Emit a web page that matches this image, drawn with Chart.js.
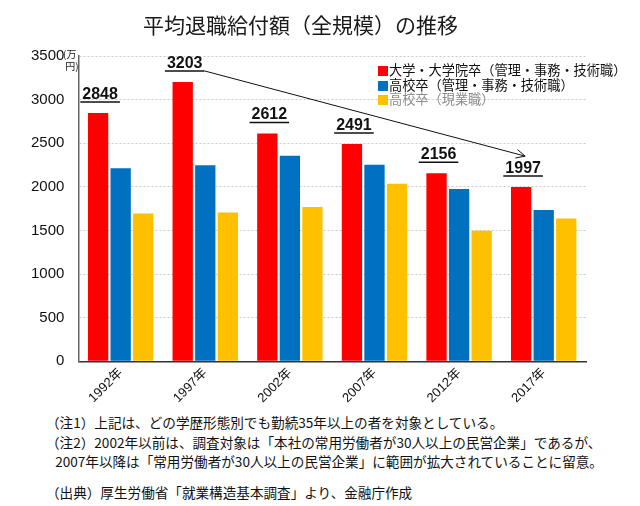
<!DOCTYPE html>
<html>
<head>
<meta charset="utf-8">
<script src="https://cdn.jsdelivr.net/npm/chart.js@4"></script>
<style>
  body { margin: 0; background: #fff; font-family: "Noto Sans CJK JP", sans-serif; }
  #wrap { position: relative; width: 640px; height: 506px; }
  #c { position: absolute; left: 0; top: 0; }
  #title { position: absolute; left: 143px; top: 10px; font-size: 21px; line-height: 28px; color: #1a1a1a; white-space: nowrap; }
  #legend { position: absolute; left: 378px; top: 63px; font-size: 13.2px; line-height: 14.6px; white-space: nowrap; }
  #legend .sw { display: inline-block; width: 10px; height: 10px; margin-right: 1px; vertical-align: -1px; }
  #unit { position: absolute; left: 63px; top: 48px; font-size: 10px; line-height: 12px; color: #222; }
  #notes { position: absolute; left: 46px; top: 413px; font-size: 13.6px; line-height: 19.5px; color: #111; white-space: nowrap; }
</style>
</head>
<body>
<div id="wrap">
  <canvas id="c" width="640" height="410"></canvas>
  <div id="title">平均退職給付額（全規模）の推移</div>
  <div id="unit">(万<br>&nbsp;円)</div>
  <div id="legend"></div>
  <div id="notes">
    <div>（注1）上記は、どの学歴形態別でも勤続35年以上の者を対象としている。</div>
    <div>（注2）2002年以前は、調査対象は「本社の常用労働者が30人以上の民営企業」であるが、</div>
    <div>&nbsp;&nbsp;&nbsp;2007年以降は「常用労働者が30人以上の民営企業」に範囲が拡大されていることに留意。</div>
    <div style="margin-top:11px">（出典）厚生労働省「就業構造基本調査」より、金融庁作成</div>
  </div>
</div>
<script>
const years = ["1992年", "1997年", "2002年", "2007年", "2012年", "2017年"];
const seriesNames = [
  "大学・大学院卒（管理・事務・技術職）",
  "高校卒（管理・事務・技術職）",
  "高校卒（現業職）",
];
const daigaku = [2848, 3203, 2612, 2491, 2156, 1997];
const koukouKanri = [2213, 2248, 2356, 2252, 1975, 1736];
const koukouGengyou = [1694, 1705, 1770, 2036, 1498, 1636];
const colors = ["#ff0000", "#0070c0", "#ffc000"];
const yTicks = [0, 500, 1000, 1500, 2000, 2500, 3000, 3500];

// 凡例（HTML）
document.getElementById("legend").innerHTML = seriesNames
  .map((n, i) => `<div style="color:${i === 2 ? "#8c8c8c" : "#111"}"><span class="sw" style="background:${colors[i]}"></span>${n}</div>`)
  .join("");

// 赤棒の上に下線付きの値＋矢印
const labelPlugin = {
  id: "redLabels",
  afterDatasetsDraw(chart) {
    const ctx = chart.ctx;
    const meta = chart.getDatasetMeta(0);
    ctx.save();
    ctx.font = "bold 16px 'Liberation Sans', Arial, sans-serif";
    ctx.fillStyle = "#111";
    ctx.strokeStyle = "#111";
    ctx.textAlign = "center";
    ctx.textBaseline = "alphabetic";
    const pos = [];
    meta.data.forEach((bar, i) => {
      const txt = String(daigaku[i]);
      const x = bar.x + 2;
      const y = bar.y - 14;
      ctx.fillText(txt, x, y);
      const w = ctx.measureText(txt).width;
      ctx.lineWidth = 1.5;
      ctx.beginPath();
      ctx.moveTo(x - w / 2 - 2, y + 3);
      ctx.lineTo(x + w / 2 + 2, y + 3);
      ctx.stroke();
      pos.push({ x, y, w });
    });
    // 1997 -> 2017 の矢印
    const a = pos[1], b = pos[5];
    const x1 = a.x + a.w / 2 + 2, y1 = a.y + 3;
    const x2 = b.x + 2, y2 = b.y - 17;
    ctx.lineWidth = 1;
    ctx.beginPath();
    ctx.moveTo(x1, y1);
    ctx.lineTo(x2, y2);
    ctx.stroke();
    const ang = Math.atan2(y2 - y1, x2 - x1);
    ctx.beginPath();
    ctx.moveTo(x2 - 10 * Math.cos(ang - 0.45), y2 - 10 * Math.sin(ang - 0.45));
    ctx.lineTo(x2, y2);
    ctx.lineTo(x2 - 10 * Math.cos(ang + 0.45), y2 - 10 * Math.sin(ang + 0.45));
    ctx.stroke();
    ctx.restore();
  },
};

new Chart(document.getElementById("c"), {
  type: "bar",
  data: {
    labels: years,
    datasets: [
      { label: seriesNames[0], data: daigaku, backgroundColor: colors[0] },
      { label: seriesNames[1], data: koukouKanri, backgroundColor: colors[1] },
      { label: seriesNames[2], data: koukouGengyou, backgroundColor: colors[2] },
    ],
  },
  options: {
    responsive: false,
    animation: false,
    layout: { padding: { left: 17, right: 54, top: 56, bottom: 0 } },
    datasets: { bar: { categoryPercentage: 0.8, barPercentage: 0.9 } },
    plugins: {
      legend: { display: false },
      tooltip: { enabled: false },
    },
    scales: {
      x: {
        grid: { display: false, drawTicks: false },
        border: { color: "#333", width: 1.5 },
        ticks: {
          color: "#111",
          maxRotation: 45,
          minRotation: 45,
          padding: 4,
          font: { family: "'Liberation Sans', 'Noto Sans CJK JP'", size: 13 },
        },
      },
      y: {
        min: 0,
        max: 3500,
        afterBuildTicks: (axis) => { axis.ticks = yTicks.map((v) => ({ value: v })); },
        grid: { color: "#c8c8c8", drawTicks: false },
        border: { color: "#666", width: 1.5, dash: [2, 2] },
        ticks: {
          color: "#111",
          padding: 14,
          callback: (v) => String(v),
          font: { family: "'Liberation Sans', Arial, sans-serif", size: 15 },
        },
      },
    },
  },
  plugins: [labelPlugin],
});
</script>
</body>
</html>
